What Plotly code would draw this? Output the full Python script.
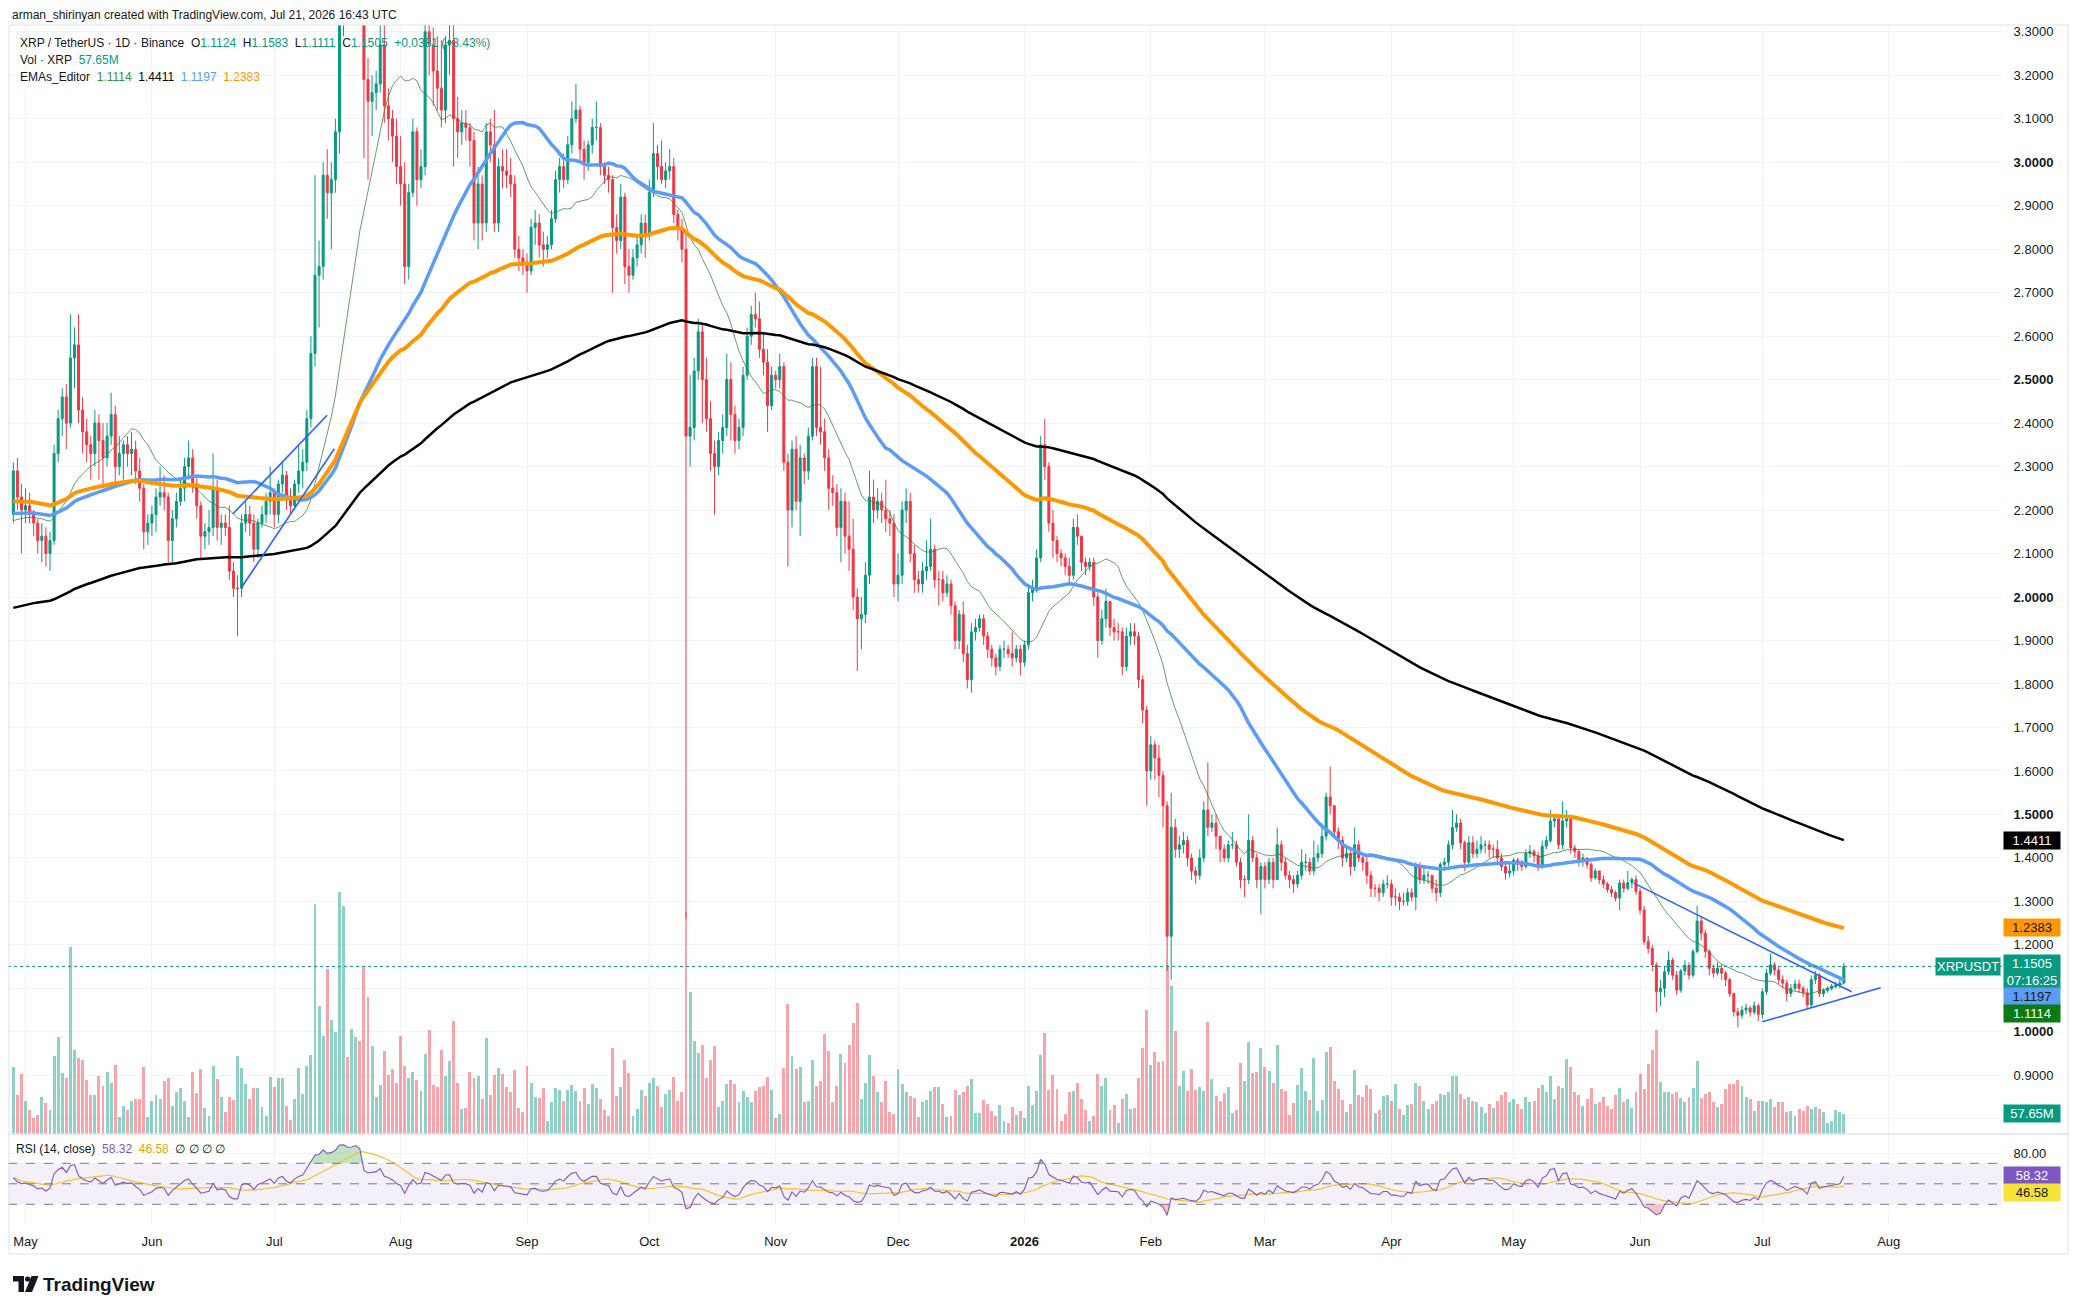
import numpy as np
import pandas as pd
import plotly.graph_objects as go

FONT = "Liberation Sans, Arial, sans-serif"
UP = "#089981"
DOWN = "#F23645"
TXT = "#131722"

# ---- daily XRP/USDT candles, 2025-04-28 .. 2026-07-21 ----
start_date = "2025-04-28"
first_open = 2.19

close = [
    2.29, 2.23, 2.20,  # Apr 25
    2.21, 2.19, 2.17, 2.13, 2.14, 2.10, 2.13, 2.33, 2.41, 2.46, 2.40, 2.55, 2.58, 2.43, 2.38, 2.35,
    2.33, 2.40, 2.36, 2.32, 2.37, 2.42, 2.30, 2.33, 2.35, 2.33, 2.34, 2.29, 2.25, 2.15, 2.17,  # May
    2.19, 2.23, 2.24, 2.23, 2.13, 2.18, 2.22, 2.25, 2.30, 2.32, 2.26, 2.21, 2.14, 2.15, 2.16,
    2.25, 2.16, 2.17, 2.16, 2.06, 2.02, 2.02, 2.17, 2.19, 2.17, 2.11, 2.17, 2.19, 2.22, 2.24,  # Jun
    2.19, 2.26, 2.28, 2.23, 2.21, 2.26, 2.29, 2.31, 2.41, 2.56, 2.74, 2.76, 2.97, 2.93, 2.96, 3.07,
    3.44, 3.46, 3.43, 3.45, 3.56, 3.52, 3.19, 3.14, 3.16, 3.18, 3.27, 3.13, 3.10, 3.06, 2.99,  # Jul
    2.95, 2.76, 2.93, 3.07, 2.96, 2.99, 3.30, 3.27, 3.21, 3.17, 3.12, 3.27, 3.28, 3.10, 3.07, 3.09,
    3.08, 3.05, 2.86, 2.95, 2.86, 3.07, 3.04, 2.86, 2.99, 2.98, 2.97, 2.95, 2.80, 2.78, 2.77,  # Aug
    2.75, 2.85, 2.86, 2.81, 2.80, 2.81, 2.87, 2.96, 2.99, 2.96, 3.04, 3.10, 3.12, 3.03, 3.00,
    3.04, 3.08, 3.08, 2.99, 2.97, 2.96, 2.85, 2.82, 2.92, 2.76, 2.74, 2.78, 2.81, 2.86, 2.83,  # Sep
    2.93, 3.02, 2.99, 2.96, 2.98, 2.99, 2.88, 2.85, 2.80, 2.37, 2.39, 2.52, 2.61, 2.50, 2.41, 2.33,
    2.30, 2.36, 2.39, 2.50, 2.42, 2.36, 2.39, 2.51, 2.60, 2.65, 2.64, 2.57, 2.54, 2.44, 2.51,  # Oct
    2.50, 2.53, 2.31, 2.20, 2.34, 2.22, 2.32, 2.29, 2.37, 2.53, 2.39, 2.38, 2.32, 2.25, 2.24,
    2.16, 2.22, 2.14, 2.11, 2.00, 1.95, 1.96, 2.05, 2.23, 2.20, 2.22, 2.20, 2.18, 2.17, 2.03,  # Nov
    2.05, 2.20, 2.22, 2.10, 2.04, 2.03, 2.06, 2.07, 2.11, 2.04, 2.04, 2.01, 2.03, 1.98, 1.90, 1.96,
    1.87, 1.81, 1.92, 1.93, 1.95, 1.91, 1.88, 1.86, 1.84, 1.88, 1.88, 1.87, 1.86, 1.88, 1.85,  # Dec
    1.89, 2.01, 2.02, 2.09, 2.35, 2.30, 2.17, 2.13, 2.10, 2.09, 2.07, 2.05, 2.16, 2.14, 2.08, 2.07,
    2.08, 2.00, 1.90, 1.95, 1.99, 1.93, 1.92, 1.92, 1.84, 1.91, 1.92, 1.91, 1.81, 1.74, 1.60,  # Jan 26
    1.66, 1.63, 1.59, 1.52, 1.22, 1.47, 1.42, 1.43, 1.44, 1.40, 1.37, 1.36, 1.40, 1.51,
    1.47, 1.48, 1.45, 1.42, 1.40, 1.43, 1.43, 1.39, 1.35, 1.35, 1.44, 1.40, 1.35, 1.38,  # Feb
    1.35, 1.39, 1.35, 1.43, 1.39, 1.36, 1.35, 1.34, 1.36, 1.39, 1.39, 1.37, 1.40, 1.41, 1.45, 1.54,
    1.52, 1.46, 1.44, 1.40, 1.41, 1.38, 1.43, 1.40, 1.39, 1.36, 1.33, 1.33, 1.32, 1.34, 1.34,  # Mar
    1.31, 1.31, 1.30, 1.30, 1.32, 1.31, 1.38, 1.35, 1.36, 1.36, 1.33, 1.32, 1.385, 1.39, 1.43,
    1.47, 1.48, 1.435, 1.39, 1.435, 1.41, 1.42, 1.43, 1.43, 1.42, 1.42, 1.40, 1.38, 1.365, 1.37,  # Apr
    1.395, 1.385, 1.38, 1.41, 1.415, 1.405, 1.38, 1.427, 1.44, 1.485, 1.49, 1.43, 1.485, 1.49, 1.423, 1.415,
    1.396, 1.40, 1.385, 1.354, 1.37, 1.35, 1.34, 1.327, 1.32, 1.308, 1.342, 1.33, 1.343, 1.35, 1.323,  # May
    1.28, 1.208, 1.192, 1.154, 1.092, 1.10, 1.138, 1.165, 1.13, 1.096, 1.14, 1.153, 1.13, 1.185, 1.255,
    1.227, 1.185, 1.146, 1.135, 1.146, 1.135, 1.12, 1.088, 1.046, 1.038, 1.05, 1.055, 1.045, 1.06, 1.04,  # Jun
    1.092, 1.135, 1.154, 1.142, 1.12, 1.112, 1.088, 1.10, 1.11, 1.10, 1.09, 1.062, 1.12, 1.13, 1.088,
    1.095, 1.10, 1.105, 1.108, 1.1124, 1.1505,  # Jul
]

high = [
    2.31, 2.32, 2.26,
    2.25, 2.24, 2.20, 2.18, 2.17, 2.16, 2.15, 2.35, 2.43, 2.48, 2.49, 2.65, 2.62, 2.65, 2.46, 2.41,
    2.37, 2.43, 2.42, 2.40, 2.40, 2.47, 2.44, 2.37, 2.36, 2.37, 2.38, 2.36, 2.32, 2.26, 2.19,
    2.21, 2.25, 2.30, 2.28, 2.24, 2.20, 2.24, 2.27, 2.32, 2.36, 2.34, 2.28, 2.22, 2.17, 2.20,
    2.33, 2.27, 2.19, 2.19, 2.21, 2.08, 2.05, 2.19, 2.22, 2.21, 2.19, 2.18, 2.21, 2.24, 2.30,
    2.25, 2.27, 2.31, 2.29, 2.25, 2.27, 2.35, 2.34, 2.43, 2.60, 2.97, 2.82, 3.00, 3.03, 3.00, 3.10,
    3.50, 3.66, 3.52, 3.51, 3.60, 3.60, 3.54, 3.24, 3.20, 3.21, 3.33, 3.33, 3.17, 3.12, 3.10,
    3.06, 3.00, 2.95, 3.10, 3.08, 3.03, 3.35, 3.38, 3.31, 3.29, 3.28, 3.29, 3.34, 3.33, 3.15, 3.12,
    3.12, 3.09, 3.07, 2.99, 2.97, 3.09, 3.10, 3.12, 3.01, 3.03, 3.03, 3.01, 2.97, 2.83, 2.80,
    2.79, 2.87, 2.89, 2.88, 2.84, 2.83, 2.89, 2.98, 3.01, 3.02, 3.06, 3.14, 3.18, 3.13, 3.05,
    3.05, 3.10, 3.14, 3.09, 3.00, 2.99, 2.97, 2.88, 2.95, 2.93, 2.80, 2.80, 2.83, 2.88, 2.88,
    2.96, 3.09, 3.04, 3.05, 3.00, 3.03, 3.01, 2.89, 2.87, 2.84, 2.51, 2.55, 2.64, 2.63, 2.55, 2.45,
    2.36, 2.38, 2.42, 2.56, 2.54, 2.44, 2.41, 2.53, 2.62, 2.67, 2.70, 2.68, 2.61, 2.57, 2.53,
    2.52, 2.56, 2.54, 2.33, 2.36, 2.37, 2.35, 2.33, 2.39, 2.55, 2.55, 2.53, 2.41, 2.34, 2.28,
    2.26, 2.25, 2.24, 2.22, 2.18, 2.02, 2.00, 2.08, 2.29, 2.27, 2.25, 2.24, 2.27, 2.20, 2.19,
    2.10, 2.22, 2.25, 2.24, 2.12, 2.06, 2.08, 2.13, 2.18, 2.12, 2.06, 2.06, 2.05, 2.04, 1.99, 1.97,
    1.99, 1.89, 1.94, 1.95, 1.96, 1.96, 1.92, 1.89, 1.87, 1.89, 1.90, 1.89, 1.92, 1.89, 1.89,
    1.90, 2.03, 2.04, 2.11, 2.37, 2.41, 2.31, 2.20, 2.14, 2.11, 2.10, 2.09, 2.18, 2.19, 2.14, 2.09,
    2.09, 2.09, 2.01, 1.97, 2.02, 1.99, 1.95, 1.94, 1.93, 1.93, 1.94, 1.94, 1.92, 1.82, 1.75,
    1.68, 1.67, 1.66, 1.60, 1.53, 1.55, 1.49, 1.45, 1.46, 1.45, 1.41, 1.38, 1.42, 1.53,
    1.62, 1.50, 1.50, 1.45, 1.43, 1.44, 1.46, 1.44, 1.40, 1.36, 1.50, 1.45, 1.41, 1.39,
    1.39, 1.40, 1.40, 1.47, 1.44, 1.40, 1.37, 1.36, 1.37, 1.42, 1.41, 1.40, 1.44, 1.43, 1.48, 1.55,
    1.61, 1.52, 1.47, 1.45, 1.43, 1.42, 1.47, 1.44, 1.41, 1.40, 1.37, 1.34, 1.34, 1.35, 1.36,
    1.35, 1.33, 1.32, 1.32, 1.33, 1.33, 1.39, 1.39, 1.38, 1.37, 1.36, 1.35, 1.39, 1.40, 1.44,
    1.51, 1.50, 1.49, 1.44, 1.45, 1.45, 1.44, 1.45, 1.44, 1.44, 1.43, 1.44, 1.41, 1.39, 1.385,
    1.40, 1.40, 1.395, 1.42, 1.43, 1.42, 1.415, 1.44, 1.45, 1.51, 1.50, 1.49, 1.53, 1.51, 1.49, 1.43,
    1.42, 1.41, 1.40, 1.39, 1.375, 1.37, 1.36, 1.345, 1.335, 1.325, 1.35, 1.35, 1.37, 1.355, 1.36,
    1.33, 1.29, 1.22, 1.20, 1.16, 1.12, 1.15, 1.185, 1.17, 1.14, 1.145, 1.165, 1.16, 1.19, 1.29,
    1.265, 1.235, 1.19, 1.155, 1.16, 1.155, 1.14, 1.125, 1.09, 1.055, 1.06, 1.065, 1.06, 1.07, 1.065,
    1.10, 1.145, 1.18, 1.16, 1.15, 1.13, 1.12, 1.11, 1.12, 1.12, 1.105, 1.10, 1.13, 1.14, 1.135,
    1.10, 1.105, 1.11, 1.115, 1.125, 1.1583,
]

low = [
    2.17, 2.20, 2.10,
    2.17, 2.17, 2.14, 2.10, 2.08, 2.07, 2.06, 2.12, 2.31, 2.37, 2.34, 2.39, 2.48, 2.40, 2.33, 2.31,
    2.27, 2.30, 2.27, 2.25, 2.30, 2.35, 2.26, 2.28, 2.27, 2.30, 2.28, 2.26, 2.22, 2.11, 2.12,
    2.14, 2.15, 2.21, 2.20, 2.08, 2.08, 2.16, 2.21, 2.22, 2.27, 2.24, 2.18, 2.09, 2.11, 2.12,
    2.14, 2.13, 2.12, 2.14, 2.04, 2.00, 1.91, 2.00, 2.15, 2.14, 2.08, 2.09, 2.16, 2.17, 2.19,
    2.16, 2.17, 2.24, 2.20, 2.19, 2.20, 2.24, 2.25, 2.29, 2.39, 2.53, 2.62, 2.73, 2.87, 2.80, 2.93,
    3.02, 3.29, 3.38, 3.37, 3.38, 3.41, 3.01, 2.96, 3.06, 3.12, 3.16, 3.09, 3.05, 3.00, 2.95,
    2.90, 2.72, 2.73, 2.92, 2.90, 2.94, 2.97, 3.20, 3.13, 3.12, 3.08, 3.09, 3.20, 2.99, 3.01, 3.04,
    3.05, 2.99, 2.82, 2.80, 2.82, 2.84, 3.00, 2.84, 2.84, 2.94, 2.94, 2.92, 2.78, 2.75, 2.74,
    2.70, 2.74, 2.81, 2.78, 2.76, 2.78, 2.80, 2.86, 2.93, 2.94, 2.95, 3.02, 3.09, 3.00, 2.96,
    2.98, 3.02, 3.05, 2.97, 2.95, 2.93, 2.70, 2.79, 2.80, 2.72, 2.70, 2.73, 2.76, 2.79, 2.78,
    2.82, 2.92, 2.96, 2.95, 2.94, 2.96, 2.86, 2.82, 2.77, 1.26, 2.30, 2.36, 2.50, 2.40, 2.38, 2.29,
    2.19, 2.28, 2.33, 2.37, 2.36, 2.33, 2.34, 2.37, 2.50, 2.58, 2.62, 2.55, 2.51, 2.38, 2.43,
    2.48, 2.48, 2.29, 2.07, 2.16, 2.20, 2.14, 2.26, 2.27, 2.36, 2.37, 2.35, 2.29, 2.20, 2.21,
    2.14, 2.08, 2.10, 2.06, 1.97, 1.83, 1.88, 1.94, 2.03, 2.17, 2.18, 2.17, 2.15, 2.14, 2.00,
    1.99, 2.03, 2.17, 2.08, 2.01, 2.01, 2.01, 2.04, 2.06, 2.02, 1.98, 1.99, 2.00, 1.96, 1.88, 1.88,
    1.85, 1.79, 1.78, 1.90, 1.92, 1.89, 1.86, 1.84, 1.82, 1.83, 1.86, 1.86, 1.84, 1.85, 1.82,
    1.84, 1.88, 1.99, 2.01, 2.08, 2.27, 2.15, 2.09, 2.08, 2.07, 2.05, 2.03, 2.04, 2.12, 2.06, 2.05,
    2.06, 1.98, 1.86, 1.89, 1.93, 1.91, 1.90, 1.90, 1.82, 1.83, 1.89, 1.89, 1.79, 1.71, 1.52,
    1.58, 1.58, 1.54, 1.47, 1.14, 1.12, 1.40, 1.40, 1.41, 1.38, 1.35, 1.34, 1.35, 1.39,
    1.45, 1.46, 1.42, 1.39, 1.39, 1.39, 1.42, 1.38, 1.33, 1.31, 1.34, 1.39, 1.33, 1.27,
    1.33, 1.34, 1.33, 1.35, 1.37, 1.35, 1.33, 1.32, 1.33, 1.35, 1.37, 1.36, 1.36, 1.39, 1.40, 1.44,
    1.50, 1.45, 1.42, 1.38, 1.39, 1.36, 1.37, 1.39, 1.37, 1.34, 1.31, 1.31, 1.30, 1.31, 1.33,
    1.29, 1.29, 1.28, 1.29, 1.29, 1.30, 1.28, 1.34, 1.34, 1.34, 1.32, 1.30, 1.31, 1.37, 1.38,
    1.42, 1.46, 1.42, 1.37, 1.38, 1.40, 1.40, 1.41, 1.41, 1.40, 1.40, 1.39, 1.37, 1.35, 1.355,
    1.36, 1.37, 1.37, 1.375, 1.40, 1.39, 1.37, 1.375, 1.42, 1.435, 1.47, 1.42, 1.42, 1.47, 1.41, 1.40,
    1.38, 1.38, 1.375, 1.345, 1.35, 1.34, 1.33, 1.32, 1.31, 1.30, 1.28, 1.32, 1.325, 1.33, 1.315,
    1.27, 1.20, 1.18, 1.14, 1.045, 1.06, 1.08, 1.13, 1.12, 1.085, 1.09, 1.13, 1.12, 1.125, 1.18,
    1.21, 1.17, 1.13, 1.125, 1.13, 1.12, 1.105, 1.08, 1.035, 1.01, 1.03, 1.04, 1.035, 1.04, 1.025,
    1.03, 1.085, 1.13, 1.13, 1.11, 1.10, 1.07, 1.08, 1.095, 1.09, 1.08, 1.055, 1.055, 1.11, 1.08,
    1.08, 1.09, 1.095, 1.10, 1.10, 1.1111,
]

# volume in millions of XRP
volume = [
    190, 110, 170, 94, 69, 45, 55, 106, 89, 69, 221, 276, 174, 160, 531, 238, 215, 211, 154, 110,
    112, 165, 136, 175, 146, 197, 49, 79, 69, 94, 100, 100, 191, 49, 94, 110, 100, 150, 160, 80,
    120, 130, 94, 49, 175, 116,
    185, 74, 51, 194, 157, 105, 63, 105, 97, 222, 188, 143, 100, 131, 131, 77, 51, 162, 134, 160,
    160, 80, 40, 100, 188, 114, 194, 225, 653, 365, 279, 470, 325, 291, 687, 647, 219, 299, 276, 265,
    473, 390, 251, 105, 140, 237, 168, 185, 145, 279, 194, 160, 177, 154, 123, 228, 294, 140, 134, 239,
    165, 208, 322, 145, 71, 74, 177, 160, 165, 100, 274, 111, 168, 188, 171, 134, 120, 182, 74, 63,
    194, 145, 105, 103, 131, 37, 91, 131, 125, 94, 125, 140, 123, 94, 131, 86, 143, 131, 100, 68,
    51, 245, 108, 134, 211, 174, 51, 71, 125, 108, 145, 160, 137, 77, 114, 125, 162, 94, 120, 630,
    402, 265, 231, 254, 160, 211, 251, 77, 94, 143, 154, 143, 91, 123, 105, 91, 123, 134, 137, 162,
    125, 46, 57, 188, 368, 222, 185, 191, 91, 94,
    211, 137, 151, 285, 237, 91, 137, 228, 202, 254, 314, 371, 100, 145, 225, 165, 120, 91, 151, 63,
    57, 185, 143, 120, 108, 103, 48, 91, 97, 123, 134, 134, 86, 48, 51, 125, 111, 120, 137, 157,
    60, 60, 97, 86, 66, 51, 83, 37, 31, 77, 54, 66, 46, 137, 83, 123, 225, 288, 125, 168,
    128, 37, 57, 120, 123, 145, 100, 68, 37, 51, 171, 137, 160, 68, 83, 31, 100, 114, 71, 74,
    160, 245, 353, 197, 234, 205, 208, 480, 420, 293, 137, 180, 123, 185, 125, 134, 123, 319, 157, 108,
    94, 117, 134, 60, 68, 202, 151, 262, 174, 177, 245, 191, 180, 145, 254, 128, 123, 54, 88, 140,
    188, 123, 97, 217, 66, 97, 234, 248, 151, 128, 97, 63, 86, 182, 111, 105, 140, 128, 60, 68,
    108, 111, 94, 143, 71, 54, 83,
    85, 145, 135, 95, 70, 85, 95, 115, 110, 120, 166, 166, 113, 100, 104, 95, 90, 78, 60, 85,
    75, 95, 110, 120, 90,
    100, 85, 70, 105, 90, 95, 130, 140, 120, 166, 100, 137, 132, 213, 190, 120, 110, 80, 100, 130,
    85, 90, 105, 80, 70, 110, 130, 90, 100, 75, 120,
    170, 128, 199, 240, 295, 147, 120, 118, 113, 118, 101, 90, 105, 130, 208, 101, 115, 118, 90, 76,
    85, 128, 142, 142, 153, 137, 104, 99, 66, 95,
    95, 90, 99, 76, 90, 90, 62, 66, 52, 71, 66, 80, 72, 78, 71, 62, 30, 36, 68, 63, 57.65,
]

# moving averages of the "EMAs_Editor" study and their values at the first visible candle
ma_kinds = ["sma", "sma", "ema", "ema"]
ma_lengths = [20, 50, 100, 200]
ma_seeds = [2.17, 2.19, 2.22, 1.975]
ma_colors = ["rgba(46,125,50,0.75)", "#5B9CF6", "#FF9800", "#000000"]
ma_widths = [1, 3.5, 4, 2.5]
rsi_seed = [0.028, 0.028]  # avg gain / avg loss at start

# user trend lines (date, price)
trend_lines = [
    (["2025-06-20 20:00", "2025-07-13 23:00"], [2.191, 2.418]),
    (["2025-06-23 01:00", "2025-07-15 18:00"], [2.023, 2.341]),
    (["2026-05-30 11:00", "2026-07-22 22:00"], [1.342, 1.092]),
    (["2026-07-01 00:00", "2026-07-30 00:00"], [1.023, 1.1015]),
]

month_ticks = ["2025-05-01", "2025-06-01", "2025-07-01", "2025-08-01", "2025-09-01", "2025-10-01",
               "2025-11-01", "2025-12-01", "2026-01-01", "2026-02-01", "2026-03-01", "2026-04-01",
               "2026-05-01", "2026-06-01", "2026-07-01", "2026-08-01"]
month_labels = ["May", "Jun", "Jul", "Aug", "Sep", "Oct", "Nov", "Dec", "<b>2026</b>",
                "Feb", "Mar", "Apr", "May", "Jun", "Jul", "Aug"]
price_ticks = [0.8, 0.9, 1.0, 1.1, 1.2, 1.3, 1.4, 1.5, 1.6, 1.7, 1.8, 1.9, 2.0, 2.1, 2.2,
               2.3, 2.4, 2.5, 2.6, 2.7, 2.8, 2.9, 3.0, 3.1, 3.2, 3.3]
# 0.8 and 1.1 sit under the value boxes, so their labels are hidden
price_labels = ["", "0.9000", "<b>1.0000</b>", "", "1.2000", "1.3000", "1.4000",
                "<b>1.5000</b>", "1.6000", "1.7000", "1.8000", "1.9000", "<b>2.0000</b>", "2.1000",
                "2.2000", "2.3000", "2.4000", "<b>2.5000</b>", "2.6000", "2.7000", "2.8000",
                "2.9000", "<b>3.0000</b>", "3.1000", "3.2000", "3.3000"]

header_ohlc = ["1.1124", "1.1583", "1.1111", "1.1505"]
header_change = "+0.0381 (+3.43%)"
header_vol = "57.65M"
header_ema = ["1.1114", "1.4411", "1.1197", "1.2383"]
rsi_last = ["58.32", "46.58"]
last_price = 1.1505

# ---- derived series ----
dates = pd.date_range(start_date, periods=len(close), freq="D")
opens = [first_open] + close[:-1]
high = [max(h, o, c) for h, o, c in zip(high, opens, close)]
low = [min(l, o, c) for l, o, c in zip(low, opens, close)]


def ema(vals, n, seed):
    a = 2.0 / (n + 1)
    out = [seed]
    for v in vals[1:]:
        out.append(a * v + (1 - a) * out[-1])
    return out


def sma(vals, n, seed):
    # bars before the first visible candle are taken at the seed level
    padded = [seed] * (n - 1) + list(vals)
    return pd.Series(padded).rolling(n).mean().tolist()[n - 1:]


def rsi(vals, prev, g, l, n=14):
    out = []
    for v in vals:
        ch = v - prev
        g = (g * (n - 1) + max(ch, 0)) / n
        l = (l * (n - 1) + max(-ch, 0)) / n
        out.append(100 - 100 / (1 + g / l))
        prev = v
    return out


rsi_vals = rsi(close, first_open, rsi_seed[0], rsi_seed[1])
rsi_ma = pd.Series(rsi_vals).rolling(14, min_periods=1).mean().tolist()

# ---- layout geometry (screen pixels; the page body adds an 8px offset) ----
W, H = 2078, 1314
OFF = 8
L, R, T, B = 8, 2002, 25, 1225
SPLIT = 1134


def px(x):
    return (x - L) / (R - L)


def py(y):
    return (B - y) / (B - T)


fig = go.Figure()

vol_colors = ["rgba(8,153,129,0.45)" if c >= o else "rgba(242,54,69,0.45)" for o, c in zip(opens, close)]
fig.add_trace(go.Bar(x=dates, y=volume, marker=dict(color=vol_colors, line=dict(width=0)),
                     width=0.72 * 86400000, yaxis="y2", hoverinfo="skip"))

fig.add_trace(go.Candlestick(
    x=dates, open=opens, high=high, low=low, close=close,
    increasing=dict(line=dict(color=UP, width=1), fillcolor=UP),
    decreasing=dict(line=dict(color=DOWN, width=1), fillcolor=DOWN),
    whiskerwidth=0, hoverinfo="skip"))

for kind, n, s, col, w in zip(ma_kinds, ma_lengths, ma_seeds, ma_colors, ma_widths):
    vals = sma(close, n, s) if kind == "sma" else ema(close, n, s)
    fig.add_trace(go.Scatter(x=dates, y=vals, mode="lines", line=dict(color=col, width=w),
                             hoverinfo="skip"))

for xs, ys in trend_lines:
    fig.add_trace(go.Scatter(x=xs, y=ys, mode="lines", line=dict(color="#2962FF", width=1.6),
                             hoverinfo="skip"))

# RSI pane
fig.add_trace(go.Scatter(x=dates, y=[70] * len(dates), mode="lines", line=dict(width=0),
                         yaxis="y3", hoverinfo="skip"))
fig.add_trace(go.Scatter(x=dates, y=[max(v, 70) for v in rsi_vals], mode="lines", line=dict(width=0),
                         fill="tonexty", fillcolor="rgba(76,175,80,0.35)", yaxis="y3", hoverinfo="skip"))
fig.add_trace(go.Scatter(x=dates, y=[30] * len(dates), mode="lines", line=dict(width=0),
                         yaxis="y3", hoverinfo="skip"))
fig.add_trace(go.Scatter(x=dates, y=[min(v, 30) for v in rsi_vals], mode="lines", line=dict(width=0),
                         fill="tonexty", fillcolor="rgba(242,54,69,0.3)", yaxis="y3", hoverinfo="skip"))
fig.add_trace(go.Scatter(x=dates, y=rsi_ma, mode="lines", line=dict(color="#F7C325", width=1.2),
                         yaxis="y3", hoverinfo="skip"))
fig.add_trace(go.Scatter(x=dates, y=rsi_vals, mode="lines", line=dict(color="#7E57C2", width=1.1),
                         yaxis="y3", hoverinfo="skip"))

# RSI band and levels
fig.add_shape(type="rect", xref="paper", yref="y3", x0=0, x1=1, y0=30, y1=70,
              fillcolor="rgba(126,87,194,0.09)", line=dict(width=0), layer="below")
for lvl in (70, 50, 30):
    fig.add_shape(type="line", xref="paper", yref="y3", x0=0, x1=1, y0=lvl, y1=lvl,
                  line=dict(color="#787B86", width=1, dash="dash"))

# last price line
fig.add_shape(type="line", xref="paper", yref="y", x0=0, x1=1, y0=last_price, y1=last_price,
              line=dict(color=UP, width=1, dash="dot"))

# pane separator and frame
fig.add_shape(type="line", xref="paper", yref="paper", x0=px(4), x1=px(2068), y0=py(SPLIT), y1=py(SPLIT),
              line=dict(color="#E0E3EB", width=1.5))
fig.add_shape(type="rect", xref="paper", yref="paper", x0=px(9), x1=px(2068), y0=py(1254), y1=py(25),
              line=dict(color="#E0E3EB", width=1))


def note(x, y, text, size=12, color=TXT, anchor="left", **kw):
    fig.add_annotation(x=px(x), y=py(y), xref="paper", yref="paper", text=text, showarrow=False,
                       xanchor=anchor, yanchor="middle", font=dict(family=FONT, size=size, color=color), **kw)


def span(t, c):
    return f"<span style='color:{c}'>{t}</span>"


sp = "\u00a0\u00a0"
note(10, 15, "arman_shirinyan created with TradingView.com, Jul 21, 2026 16:43 UTC")
note(18, 43, "XRP / TetherUS · 1D · Binance" + sp + "O" + span(header_ohlc[0], UP) + sp + "H" +
     span(header_ohlc[1], UP) + sp + "L" + span(header_ohlc[2], UP) + sp + "C" + span(header_ohlc[3], UP) +
     sp + span(header_change, UP))
note(18, 60, "Vol · XRP" + sp + span(header_vol, UP))
note(18, 77, "EMAs_Editor" + sp + span(header_ema[0], "#388E3C") + sp + span(header_ema[1], "#000000") +
     sp + span(header_ema[2], "#5B9CF6") + sp + span(header_ema[3], "#FF9800"))
note(14, 1149, "RSI (14, close)" + sp + span(rsi_last[0], "#7E57C2") + sp + span(rsi_last[1], "#E0A800") +
     sp + "∅ ∅ ∅ ∅")


def box(y, text, bg, fg, w=54):
    note(2003, y, text, size=13, color=fg, bgcolor=bg, width=w, borderpad=1, align="center")


box(840, header_ema[1], "#000000", "#FFFFFF")
box(928, header_ema[3], "#FF9800", "#131722")
box(972, "1.1505<br>07:16:25", UP, "#FFFFFF")
box(996, header_ema[2], "#5B9CF6", "#131722")
box(1013, header_ema[0], "#0B7A12", "#FFFFFF")
box(1113, header_vol, UP, "#FFFFFF")
box(1175, rsi_last[0], "#7E57C2", "#FFFFFF")
box(1192, rsi_last[1], "#F5E33A", "#131722")
note(2001, 966, "XRPUSDT", size=13, color="#FFFFFF", anchor="right", bgcolor=UP, borderpad=1)

# TradingView logo
fig.add_shape(type="path", xref="paper", yref="paper", fillcolor=TXT, line=dict(width=0),
              path=f"M {px(13)} {py(1276)} L {px(24)} {py(1276)} L {px(24)} {py(1292)} L {px(18.5)} {py(1292)} "
                   f"L {px(18.5)} {py(1281.5)} L {px(13)} {py(1281.5)} Z")
fig.add_shape(type="circle", xref="paper", yref="paper", fillcolor=TXT, line=dict(width=0),
              x0=px(25), x1=px(30.2), y0=py(1281.6), y1=py(1276.4))
fig.add_shape(type="path", xref="paper", yref="paper", fillcolor=TXT, line=dict(width=0),
              path=f"M {px(31.5)} {py(1276)} L {px(38.5)} {py(1276)} L {px(32)} {py(1292)} L {px(25)} {py(1292)} Z")
note(41, 1284, "<b>TradingView</b>", size=19)

fig.update_layout(
    width=W - OFF, height=H - OFF, autosize=False,
    margin=dict(l=L - OFF, r=W - R, t=T - OFF, b=H - B),
    paper_bgcolor="#FFFFFF", plot_bgcolor="#FFFFFF",
    showlegend=False, hovermode=False, bargap=0,
    font=dict(family=FONT, size=13, color=TXT),
    xaxis=dict(type="date", range=["2025-04-26 16:48", "2026-08-28 18:43"], anchor="y3",
               tickvals=month_ticks, ticktext=month_labels, showgrid=True, gridcolor="#F0F3FA",
               ticks="outside", ticklen=4, tickcolor="rgba(0,0,0,0)", showline=False, zeroline=False,
               rangeslider=dict(visible=False), tickfont=dict(size=13, color=TXT)),
    yaxis=dict(domain=[py(SPLIT), 1], range=[0.765, 3.3156], side="right", tickvals=price_ticks,
               ticktext=price_labels, showgrid=True, gridcolor="#F0F3FA", zeroline=False,
               ticks="outside", ticklen=8, tickcolor="rgba(0,0,0,0)", tickfont=dict(size=13, color=TXT)),
    yaxis2=dict(domain=[py(SPLIT), 1], overlaying="y", range=[0, 3150], visible=False),
    yaxis3=dict(domain=[0, py(SPLIT)], range=[9.8, 98.6], side="right", tickvals=[80], ticktext=["80.00"],
                showgrid=True, gridcolor="#F0F3FA", zeroline=False, anchor="x",
                ticks="outside", ticklen=8, tickcolor="rgba(0,0,0,0)", tickfont=dict(size=13, color=TXT)),
)

fig.write_html("out.html")
